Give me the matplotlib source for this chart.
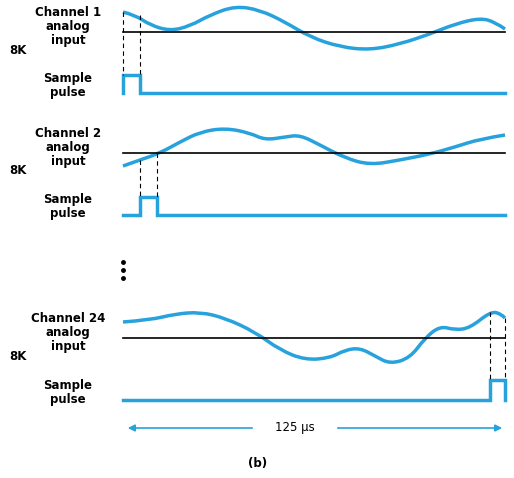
import matplotlib.pyplot as plt
from matplotlib.path import Path
from matplotlib.patches import PathPatch

# waveform samples (x in px, y in px from top)
ch1_x = [123, 135, 150, 170, 190, 210, 235, 260, 285, 310, 340, 370, 400, 430, 455, 480, 495, 505]
ch1_y = [12, 15, 25, 31, 26, 15, 6, 10, 22, 37, 47, 50, 44, 34, 24, 18, 22, 29]
ch2_x = [123, 140, 160, 180, 200, 225, 250, 265, 285, 300, 320, 345, 370, 400, 430, 455, 480, 505]
ch2_y = [166, 160, 153, 142, 132, 128, 133, 140, 137, 135, 145, 158, 165, 160, 154, 147, 139, 135]
ch24_x = [123, 150, 175, 200, 225, 255, 280, 305, 330, 345, 360, 375, 390, 410, 425, 440, 455, 470, 490, 500, 505]
ch24_y = [322, 320, 314, 312, 318, 332, 350, 360, 358, 350, 348, 356, 364, 358, 338, 326, 330, 328, 312, 313, 318]

channels = [("Channel 1", 32, 93, 75, 123, 140, ch1_x, ch1_y),
            ("Channel 2", 153, 215, 197, 140, 157, ch2_x, ch2_y),
            ("Channel 24", 338, 400, 380, 490, 505, ch24_x, ch24_y)]

blue = "#27a2dc"


def smooth_path(xs, ys):
    # quadratic bezier: sample points are controls, midpoints are on-curve
    pts = list(zip(xs, ys))
    verts = [pts[0]]
    codes = [Path.MOVETO]
    for i in range(1, len(pts) - 1):
        mid = ((pts[i][0] + pts[i + 1][0]) / 2, (pts[i][1] + pts[i + 1][1]) / 2)
        if i == len(pts) - 2:
            mid = pts[-1]
        verts += [pts[i], mid]
        codes += [Path.CURVE3, Path.CURVE3]
    return Path(verts, codes)


fig = plt.figure(figsize=(5.14, 4.78), dpi=100)
ax = fig.add_axes([0, 0, 1, 1])
ax.set_xlim(0, 514)
ax.set_ylim(478, 0)
ax.axis("off")

for name, base, pbase, phigh, p0, p1, wx, wy in channels:
    ax.plot([123, 505], [base, base], color="black", lw=1.2)
    ax.add_patch(PathPatch(smooth_path(wx, wy), fill=False, edgecolor=blue, lw=2.5))
    ax.plot([123, p0, p0, p1, p1, 505], [pbase, pbase, phigh, phigh, pbase, pbase],
            color=blue, lw=2.5, solid_joinstyle="miter")
    for px in (p0, p1):
        wyv = wy[min(range(len(wx)), key=lambda i: abs(wx[i] - px))]
        ax.plot([px, px], [wyv, phigh], color="black", lw=0.8, ls=(0, (4, 3)))
    top = base - 26
    ax.text(68, top, name + "\nanalog\ninput", ha="center", va="top",
            fontsize=8.5, fontweight="bold", linespacing=1.1)
    ax.text(18, base + 18, "8K", ha="center", va="center", fontsize=8.5, fontweight="bold")
    ax.text(68, pbase - 8, "Sample\npulse", ha="center", va="center",
            fontsize=8.5, fontweight="bold", linespacing=1.1)

ax.plot([123, 123, 123], [262, 270, 278], "ko", ms=2.5)
ax.annotate("", xy=(125, 428), xytext=(255, 428),
            arrowprops=dict(arrowstyle="-|>", color=blue, lw=1.2))
ax.annotate("", xy=(505, 428), xytext=(335, 428),
            arrowprops=dict(arrowstyle="-|>", color=blue, lw=1.2))
ax.text(295, 428, "125 μs", ha="center", va="center", fontsize=8.5)
ax.text(258, 463, "(b)", ha="center", va="center", fontsize=8.5, fontweight="bold")

fig.savefig("out.png", dpi=100)
